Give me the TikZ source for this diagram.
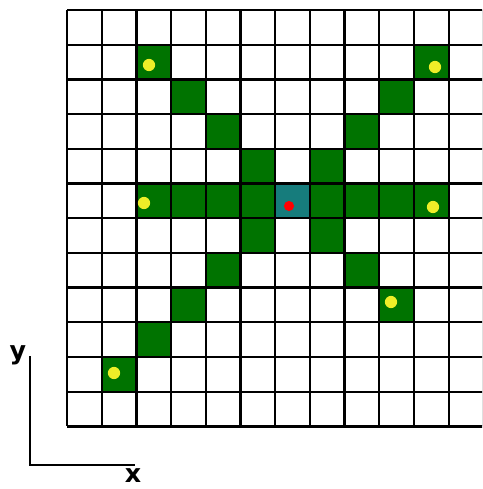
\documentclass[tikz,border=0pt]{standalone}
\usepackage{fontspec}
\setmainfont{DejaVu Sans}
\definecolor{cellgreen}{RGB}{0,115,0}
\definecolor{cellteal}{RGB}{22,124,124}
\definecolor{dotyellow}{RGB}{238,238,40}
\begin{document}
\begin{tikzpicture}[x=0.75pt,y=-0.75pt,
  gridline/.style={black,line width=1.7pt},
  axisline/.style={black,line width=1.25pt},
  axislabel/.style={font=\bfseries\fontsize{19pt}{21pt}\selectfont,inner sep=0pt},
  ydot/.style={fill=dotyellow},
  rdot/.style={fill=red}]
\useasboundingbox (0,0) rectangle (482,489);
\def\cs{34.7}
\begin{scope}
\clip (0,0) rectangle (482,489);
% green cells
\foreach \c/\r in {2/1,10/1,3/2,9/2,4/3,8/3,5/4,7/4,
  2/5,3/5,4/5,5/5,7/5,8/5,9/5,10/5,
  5/6,7/6,4/7,8/7,3/8,9/8,2/9,1/10}
  \fill[cellgreen] ({67+\c*\cs},{10+\r*\cs}) rectangle ++(\cs,\cs);
\fill[cellteal] ({67+6*\cs},{10+5*\cs}) rectangle ++(\cs,\cs);
% grid
\foreach \i in {0,...,12}{
  \draw[gridline] ({67+\i*\cs},10) -- ({67+\i*\cs},{10+12*\cs});
  \draw[gridline] (67,{10+\i*\cs}) -- ({67+12*\cs},{10+\i*\cs});
}
\end{scope}
% dots
\foreach \px/\py in {149/65,435/67,144/203,433/207,391/302,114/373}
  \fill[ydot] (\px,\py) circle (4.6pt);
\fill[rdot] (289,206) circle (3.8pt);
% axes
\coordinate (ytop) at (30,356);
\coordinate (origin) at (30,465);
\coordinate (xend) at (135,465);
\draw[axisline] (ytop) -- (origin) -- (xend);
\node[axislabel] (ylab) at (18,355) {y};
\node[axislabel] (xlab) at (133,476) {x};
\end{tikzpicture}
\end{document}
